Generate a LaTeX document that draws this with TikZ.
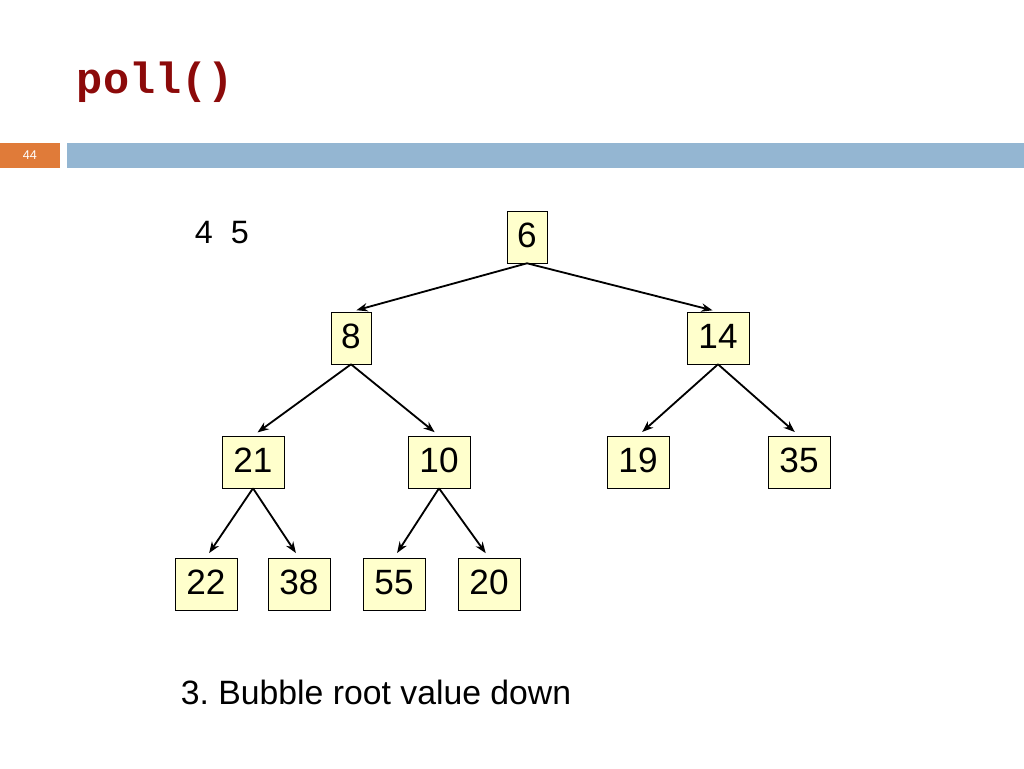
\documentclass[tikz,border=0pt]{standalone}
\usepackage{fontspec}
\setmainfont{Liberation Sans}
\newfontfamily\monofont{Liberation Mono}
\usetikzlibrary{positioning,arrows.meta}
\definecolor{heapfill}{RGB}{255,255,204}
\definecolor{titlered}{RGB}{140,10,10}
\definecolor{barblue}{RGB}{148,182,210}
\definecolor{barorange}{RGB}{224,123,57}
\begin{document}
\frenchspacing
\begin{tikzpicture}[x=0.25mm,y=-0.25mm,
   key/.style={draw,fill=heapfill,font=\fontsize{25}{28}\selectfont,
      inner xsep=0pt,inner ysep=1mm,text height=8mm,text depth=3mm,minimum width=15.5mm},
   narrow/.style={minimum width=10mm},
   link/.style={-{Stealth[length=8pt,width=6pt]},line width=1.3pt,shorten >=4pt}]
   \useasboundingbox (0,0) rectangle (1024,768);
   \node[anchor=west,text=titlered,font=\monofont\bfseries\fontsize{31}{33}\selectfont] (title) at (72,82) {poll()};
   \fill[barorange] (0,143) rectangle (60,168);
   \node[text=white,font=\fontsize{9}{10}\selectfont] (page) at (30,155) {44};
   \fill[barblue] (67,143) rectangle (1024,168);
   \node[anchor=west,font=\fontsize{23}{25}\selectfont] (rem) at (190,233) {4\ \ 5};
   % the heap
   \node[key,narrow] (n6)  at (527,237) {6};
   \node[key,narrow] (n8)  at (351,338) {8};
   \node[key] (n14) at (718,338) {14};
   \node[key] (n21) at (253,462) {21};
   \node[key] (n10) at (439,462) {10};
   \node[key] (n19) at (638,462) {19};
   \node[key] (n35) at (799,462) {35};
   \node[key] (n22) at (206,584) {22};
   \node[key] (n38) at (299,584) {38};
   \node[key] (n55) at (394,584) {55};
   \node[key] (n20) at (489,584) {20};
   \draw[link] (n6.south) -- (n8.north);
   \draw[link] (n6.south) -- (n14.north);
   \draw[link] (n8.south) -- (n21.north);
   \draw[link] (n8.south) -- (n10.north);
   \draw[link] (n14.south) -- (n19.north);
   \draw[link] (n14.south) -- (n35.north);
   \draw[link] (n21.south) -- (n22.north);
   \draw[link] (n21.south) -- (n38.north);
   \draw[link] (n10.south) -- (n55.north);
   \draw[link] (n10.south) -- (n20.north);
   \node[anchor=west,font=\fontsize{24}{26}\selectfont] (step) at (176,692) {3. Bubble root value down};
\end{tikzpicture}
\end{document}
